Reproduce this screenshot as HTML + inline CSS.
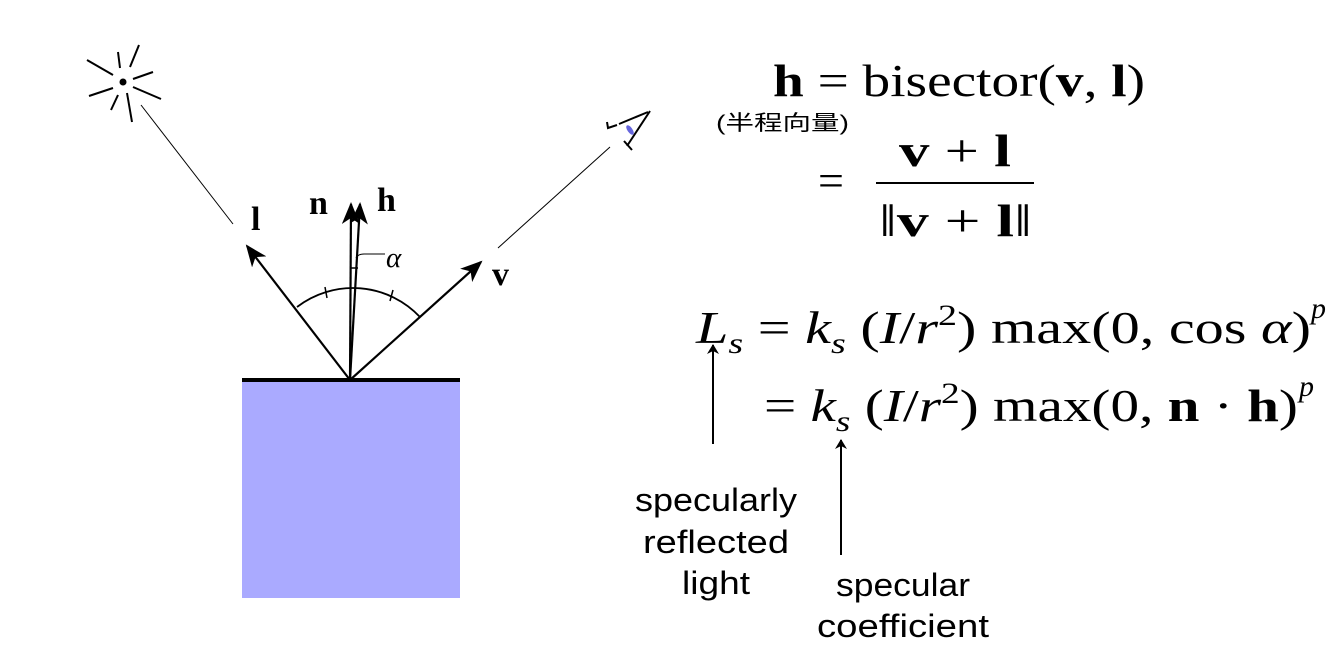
<!DOCTYPE html>
<html><head><meta charset="utf-8"><style>
html,body{margin:0;padding:0;background:#fff;}
svg{display:block;}
.m{font-family:"Liberation Serif",serif;}
.s{font-family:"Liberation Sans","DejaVu Sans",sans-serif;}
</style></head><body>
<svg width="1337" height="660" viewBox="0 0 1337 660" xmlns="http://www.w3.org/2000/svg">
<defs>
<marker id="ah" markerWidth="10" markerHeight="12" refX="9" refY="6" orient="auto" markerUnits="userSpaceOnUse" viewBox="0 0 10 12">
<path d="M0,0 L10,6 L0,12 L3,6 Z" fill="#000"/>
</marker>
<marker id="ab" markerWidth="22" markerHeight="18" refX="20" refY="9" orient="auto" markerUnits="userSpaceOnUse" viewBox="0 0 22 18">
<path d="M0,0 L22,9 L0,18 L6,9 Z" fill="#000"/>
</marker>
</defs>
<rect x="242" y="381" width="218" height="217" fill="#aaaaff"/>
<line x1="242" y1="380" x2="460" y2="380" stroke="#000" stroke-width="4"/>
<circle cx="123" cy="82" r="3.5" fill="#000"/>
<g stroke="#000" stroke-width="2">
<line x1="87" y1="60" x2="113" y2="75"/>
<line x1="118" y1="52" x2="120" y2="68"/>
<line x1="139" y1="45" x2="130" y2="67"/>
<line x1="133" y1="79" x2="153" y2="72"/>
<line x1="133" y1="87" x2="161" y2="99"/>
<line x1="127" y1="93" x2="132" y2="122"/>
<line x1="118" y1="95" x2="111" y2="110"/>
<line x1="113" y1="88" x2="89" y2="96"/>
</g>
<line x1="141" y1="105" x2="233" y2="224" stroke="#000" stroke-width="1"/>
<line x1="498" y1="248" x2="610" y2="147" stroke="#000" stroke-width="1"/>
<path d="M607,122 L608,128 L617,125" fill="none" stroke="#000" stroke-width="2"/>
<path d="M650,111 L627,146 M624,141 L632,150" fill="none" stroke="#000" stroke-width="2"/>
<path d="M617,125 L650,111" fill="none" stroke="#000" stroke-width="0"/>
<path d="M619,124 L648,112" fill="none" stroke="#000" stroke-width="2"/>
<ellipse cx="630" cy="130" rx="2.5" ry="5.5" fill="#6666dd" transform="rotate(-35 630 130)"/>
<path d="M297,307 A92,92 0 0 1 420,317" fill="none" stroke="#000" stroke-width="1.8"/>
<line x1="325" y1="287" x2="327" y2="298" stroke="#000" stroke-width="1.5"/>
<line x1="393" y1="290" x2="390" y2="301" stroke="#000" stroke-width="1.5"/>
<g stroke="#000" stroke-width="2.2" fill="none">
<line x1="350" y1="380" x2="247" y2="246" marker-end="url(#ab)"/>
<line x1="350" y1="380" x2="481" y2="262" marker-end="url(#ab)"/>
<line x1="350" y1="380" x2="351" y2="204" marker-end="url(#ab)"/>
<line x1="350" y1="380" x2="360" y2="204" marker-end="url(#ab)"/>
</g>
<line x1="351" y1="268" x2="358" y2="268" stroke="#000" stroke-width="1.5"/>
<path d="M356,258 q2,-4 8,-4 L385,254" fill="none" stroke="#000" stroke-width="1"/>
<text x="386" y="267" class="m" font-size="29" font-style="italic">α</text>
<text x="251" y="230" class="m" font-size="34" font-weight="bold">l</text>
<text x="309" y="214" class="m" font-size="34" font-weight="bold">n</text>
<text x="377" y="211" class="m" font-size="34" font-weight="bold">h</text>
<text x="492" y="285" class="m" font-size="34" font-weight="bold">v</text>
<text x="773" y="96" class="m" font-size="46" textLength="372" lengthAdjust="spacingAndGlyphs"><tspan font-weight="bold">h</tspan> = bisector(<tspan font-weight="bold">v</tspan>, <tspan font-weight="bold">l</tspan>)</text>
<text x="716" y="130" font-size="21" textLength="133" lengthAdjust="spacingAndGlyphs" font-family="'Liberation Sans','Noto Sans CJK SC',sans-serif">(半程向量)</text>
<text x="818" y="196" class="m" font-size="46">=</text>
<text x="899" y="166" class="m" font-size="46" textLength="112" lengthAdjust="spacingAndGlyphs"><tspan font-weight="bold">v</tspan> + <tspan font-weight="bold">l</tspan></text>
<line x1="876" y1="183" x2="1034" y2="183" stroke="#000" stroke-width="2"/>
<text x="879" y="236" class="m" font-size="46" textLength="153" lengthAdjust="spacingAndGlyphs">‖<tspan font-weight="bold">v</tspan> + <tspan font-weight="bold">l</tspan>‖</text>
<text x="696" y="343" class="m" font-size="46" textLength="615" lengthAdjust="spacingAndGlyphs"><tspan font-style="italic">L</tspan><tspan font-style="italic" font-size="30" dy="10">s</tspan><tspan dy="-10"> = </tspan><tspan font-style="italic">k</tspan><tspan font-style="italic" font-size="30" dy="10">s</tspan><tspan dy="-10"> (</tspan><tspan font-style="italic">I</tspan>/<tspan font-style="italic">r</tspan><tspan font-size="30" dy="-18">2</tspan><tspan dy="18">) max(0, cos </tspan><tspan font-style="italic">α</tspan>)</text>
<text x="1311" y="318" class="m" font-size="30" font-style="italic">p</text>
<text x="764" y="421" class="m" font-size="46" textLength="534" lengthAdjust="spacingAndGlyphs"><tspan>= </tspan><tspan font-style="italic">k</tspan><tspan font-style="italic" font-size="30" dy="10">s</tspan><tspan dy="-10"> (</tspan><tspan font-style="italic">I</tspan>/<tspan font-style="italic">r</tspan><tspan font-size="30" dy="-18">2</tspan><tspan dy="18">) max(0, </tspan><tspan font-weight="bold">n</tspan> · <tspan font-weight="bold">h</tspan>)</text>
<text x="1299" y="396" class="m" font-size="30" font-style="italic">p</text>
<line x1="713" y1="444" x2="713" y2="345" stroke="#000" stroke-width="2" marker-end="url(#ah)"/>
<line x1="841" y1="555" x2="841" y2="440" stroke="#000" stroke-width="2" marker-end="url(#ah)"/>
<g class="s" font-size="32" text-anchor="middle" fill="#000">
<text x="716" y="511" textLength="162" lengthAdjust="spacingAndGlyphs">specularly</text>
<text x="716" y="553" textLength="146" lengthAdjust="spacingAndGlyphs">reflected</text>
<text x="716" y="594" textLength="68" lengthAdjust="spacingAndGlyphs">light</text>
<text x="903" y="596" textLength="134" lengthAdjust="spacingAndGlyphs">specular</text>
<text x="903" y="637" textLength="172" lengthAdjust="spacingAndGlyphs">coefficient</text>
</g>
</svg>
</body></html>
